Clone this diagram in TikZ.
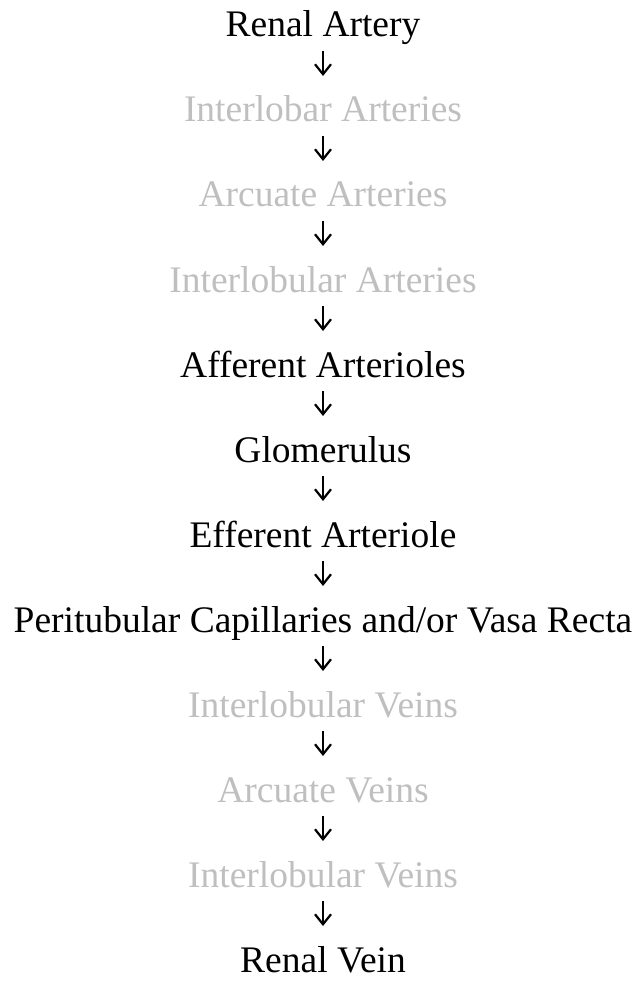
\documentclass[tikz,border=0pt]{standalone}
\usepackage{fontspec}
\setmainfont{Liberation Serif}
\usetikzlibrary{arrows.meta}
\definecolor{faded}{RGB}{191,191,191}
\begin{document}
\begin{tikzpicture}[x=1pt,y=1pt,
	stage/.style={anchor=base, inner sep=0pt, font=\fontsize{37.5}{37.5}\selectfont},
	flow/.style={-{Straight Barb[length=10pt,width=16pt]}, line width=2.2pt}]
	\def\dy{85}
	\useasboundingbox (0,0) rectangle (641,-981);
	% vessels, top to bottom
	\foreach \i/\c/\t in {0/black/Renal Artery, 1/faded/Interlobar Arteries,
		2/faded/Arcuate Arteries, 3/faded/Interlobular Arteries,
		4/black/Afferent Arterioles, 5/black/Glomerulus,
		6/black/Efferent Arteriole, 7/black/{Peritubular Capillaries and/or Vasa Recta},
		8/faded/Interlobular Veins, 9/faded/Arcuate Veins,
		10/faded/Interlobular Veins, 11/black/Renal Vein} {
		\node[stage, text=\c] (s\i) at (323, -37-\i*\dy) {\t};
	}
	% arrows between them
	\foreach \i [evaluate=\i as \j using int(\i+1)] in {0,...,10} {
		\draw[flow] ([yshift=-14pt]s\i.base) -- ([yshift=46pt]s\j.base);
	}
\end{tikzpicture}
\end{document}
